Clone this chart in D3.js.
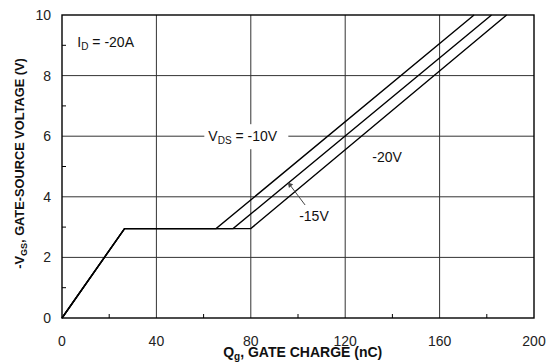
<!DOCTYPE html>
<html>
<head>
<meta charset="utf-8">
<script src="https://cdn.jsdelivr.net/npm/d3@7"></script>
<style>
  body { margin: 0; background: #fff; }
  svg { display: block; font-family: "Liberation Sans", Arial, sans-serif; }
</style>
</head>
<body>
<div id="chart"></div>
<script>
// gate charge (nC) vs -VGS (V), ID = -20A
const xTicks = [0, 40, 80, 120, 160, 200];
const yTicks = [0, 2, 4, 6, 8, 10];
const xMinor = [20, 60, 100, 140, 180];
const yMinor = [1, 3, 5, 7, 9];

const vdsLabels = ["-10V", "-15V", "-20V"];
const qCharge = [
  [0, 26.5, 65.3, 174.6],
  [0, 26.5, 72.5, 182],
  [0, 26.5, 80, 188.4]
];
const vGate = [
  [0, 2.95, 2.95, 10],
  [0, 2.95, 2.95, 10],
  [0, 2.95, 2.95, 10]
];

const width = 548, height = 364;
const margin = { top: 15, right: 14, bottom: 46, left: 62 };
const innerWidth = width - margin.left - margin.right,
  innerHeight = height - margin.top - margin.bottom;

const svg = d3.select("#chart")
  .append("svg")
  .attr("width", width)
  .attr("height", height);

const g = svg.append("g")
  .attr("transform", `translate(${margin.left},${margin.top})`);

const x = d3.scaleLinear().domain([0, 200]).range([0, innerWidth]);
const y = d3.scaleLinear().domain([0, 10]).range([innerHeight, 0]);

// grid
g.append("g")
  .selectAll("line")
  .data(xTicks.slice(1, -1))
  .join("line")
  .attr("x1", d => x(d)).attr("x2", d => x(d))
  .attr("y1", 0).attr("y2", innerHeight)
  .attr("stroke", "#333").attr("stroke-width", 1);

g.append("g")
  .selectAll("line")
  .data(yTicks.slice(1, -1))
  .join("line")
  .attr("x1", 0).attr("x2", innerWidth)
  .attr("y1", d => y(d)).attr("y2", d => y(d))
  .attr("stroke", "#333").attr("stroke-width", 1);

// minor ticks pointing inward
g.append("g")
  .selectAll("line")
  .data(xMinor)
  .join("line")
  .attr("x1", d => x(d)).attr("x2", d => x(d))
  .attr("y1", innerHeight).attr("y2", innerHeight - 4)
  .attr("stroke", "#000");

g.append("g")
  .selectAll("line")
  .data(yMinor)
  .join("line")
  .attr("x1", 0).attr("x2", 4)
  .attr("y1", d => y(d)).attr("y2", d => y(d))
  .attr("stroke", "#000");

// tick labels
g.append("g")
  .selectAll("text")
  .data(xTicks)
  .join("text")
  .attr("x", d => x(d))
  .attr("y", innerHeight + 28)
  .attr("text-anchor", "middle")
  .attr("font-size", 14)
  .attr("fill", "#222")
  .text(d => d);

g.append("g")
  .selectAll("text")
  .data(yTicks)
  .join("text")
  .attr("x", -11)
  .attr("y", d => y(d))
  .attr("dy", "0.35em")
  .attr("text-anchor", "end")
  .attr("font-size", 14)
  .attr("fill", "#222")
  .text(d => d);

// V_DS label with white knockout
const vdsLabel = g.append("g")
  .attr("transform", `translate(${x(62)},${y(6)})`);
vdsLabel.append("rect")
  .attr("x", -4).attr("y", -12)
  .attr("width", 84).attr("height", 25)
  .attr("fill", "#fff");
const vdsText = vdsLabel.append("text")
  .attr("x", 0).attr("y", 5)
  .attr("font-size", 14)
  .attr("fill", "#111");
vdsText.append("tspan").text("V");
vdsText.append("tspan").attr("font-size", 10).attr("dy", 3).text("DS");
vdsText.append("tspan").attr("dy", -3).text(" = " + vdsLabels[0]);

// curves
const line = d3.line()
  .x(d => x(d[0]))
  .y(d => y(d[1]));

g.append("g")
  .selectAll("path")
  .data(qCharge.map((qs, i) => qs.map((q, j) => [q, vGate[i][j]])))
  .join("path")
  .attr("d", line)
  .attr("fill", "none")
  .attr("stroke", "#000")
  .attr("stroke-width", 1.4);

// frame
g.append("rect")
  .attr("width", innerWidth).attr("height", innerHeight)
  .attr("fill", "none")
  .attr("stroke", "#000")
  .attr("stroke-width", 1.4);

// I_D note
const idText = g.append("text")
  .attr("x", x(6.5)).attr("y", y(8.95))
  .attr("font-size", 14)
  .attr("fill", "#111");
idText.append("tspan").text("I");
idText.append("tspan").attr("font-size", 10).attr("dy", 3).text("D");
idText.append("tspan").attr("dy", -3).text(" = -20A");

// -20V label
g.append("text")
  .attr("x", x(131.5)).attr("y", y(5.15))
  .attr("font-size", 14)
  .attr("fill", "#111")
  .text(vdsLabels[2]);

// -15V label with pointer
g.append("line")
  .attr("x1", x(103)).attr("y1", y(3.73))
  .attr("x2", x(96.3)).attr("y2", y(4.42))
  .attr("stroke", "#444").attr("stroke-width", 1);
g.append("path")
  .attr("d", d3.symbol(d3.symbolTriangle, 14)())
  .attr("transform", `translate(${x(96.6)},${y(4.39)}) rotate(-42)`)
  .attr("fill", "#444");
g.append("text")
  .attr("x", x(100.5)).attr("y", y(3.2))
  .attr("font-size", 14)
  .attr("fill", "#111")
  .text(vdsLabels[1]);

// axis titles
const xTitle = svg.append("text")
  .attr("x", margin.left + x(102))
  .attr("y", 357)
  .attr("text-anchor", "middle")
  .attr("font-size", 14)
  .attr("font-weight", "bold")
  .attr("fill", "#111");
xTitle.append("tspan").text("Q");
xTitle.append("tspan").attr("font-size", 10).attr("dy", 3).text("g");
xTitle.append("tspan").attr("dy", -3).text(", GATE CHARGE (nC)");

const yTitle = svg.append("text")
  .attr("transform", `translate(24,${margin.top + y(5.1)}) rotate(-90)`)
  .attr("text-anchor", "middle")
  .attr("font-size", 12.8)
  .attr("font-weight", "bold")
  .attr("fill", "#111");
yTitle.append("tspan").text("-V");
yTitle.append("tspan").attr("font-size", 9).attr("dy", 3).text("GS");
yTitle.append("tspan").attr("dy", -3).text(", GATE-SOURCE VOLTAGE (V)");
</script>
</body>
</html>
